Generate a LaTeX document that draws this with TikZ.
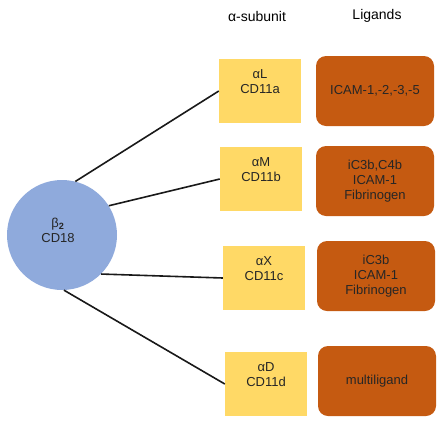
\documentclass[tikz,border=0pt]{standalone}
\usepackage{fontspec}
\setmainfont{Liberation Sans}
\definecolor{subyellow}{HTML}{FFD966}
\definecolor{ligorange}{HTML}{C55A11}
\definecolor{betablue}{HTML}{8FAADC}
\tikzset{
	alphabox/.style={fill=subyellow, minimum width=82pt, minimum height=64pt, inner sep=0pt},
	ligbox/.style={fill=ligorange, rounded corners=10pt, minimum width=118pt, minimum height=70pt, align=center, text=black!85, font=\fontsize{13}{15}\selectfont},
	boxtext/.style={align=center, text=black!85, font=\fontsize{13}{15}\selectfont},
	link/.style={line width=1.6pt, black!90}
}
\begin{document}
\begin{tikzpicture}[x=1pt,y=-1pt]
		\useasboundingbox (0,0) rectangle (445,429);
		% column headers
		\node[font=\fontsize{14}{16}\selectfont] (hsub) at (257,16) {α-subunit};
		\node[font=\fontsize{14}{16}\selectfont] (hlig) at (377,16) {Ligands};
		% beta chain
		\node[circle, fill=betablue, minimum size=110pt, inner sep=0pt,
			label={[boxtext, xshift=-4pt, yshift=5pt]center:β\textsubscript{\textbf{2}}\\CD18}] (b) at (62,235) {};
		% alpha subunits
		\node[alphabox, label={[boxtext, yshift=9pt]center:αL\\CD11a}] (a1) at (260,91) {};
		\node[alphabox, label={[boxtext, yshift=9pt]center:αM\\CD11b}] (a2) at (261,179) {};
		\node[alphabox, label={[boxtext, yshift=9pt]center:αX\\CD11c}] (a3) at (264,278) {};
		\node[alphabox, label={[boxtext, yshift=9pt]center:αD\\CD11d}] (a4) at (266,384) {};
		% ligands
		\node[ligbox] (l1) at (375,91) {ICAM-1,-2,-3,-5};
		\node[ligbox] (l2) at (375,181) {iC3b,C4b\\ICAM-1\\Fibrinogen};
		\node[ligbox] (l3) at (376,276) {iC3b\\ICAM-1\\Fibrinogen};
		\node[ligbox] (l4) at (377,381) {multiligand};
		% connections
		\draw[link] (b.76) -- (a1.west);
		\draw[link] (b.32) -- (a2.west);
		\draw[link] (b.-45) -- (a3.west);
		\draw[link] (b.-88) -- (a4.west);
	\end{tikzpicture}
\end{document}
